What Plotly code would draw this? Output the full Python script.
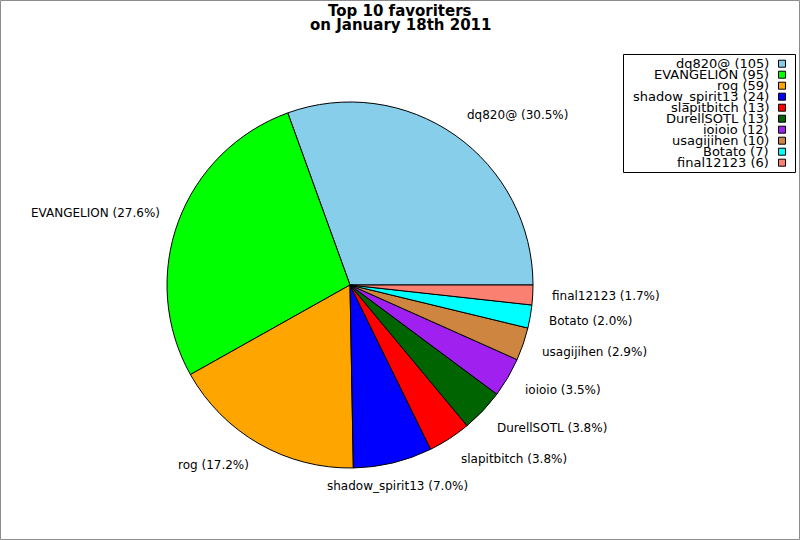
import numpy as np
import plotly.graph_objects as go

names = ["dq820@", "EVANGELION", "rog", "shadow_spirit13", "slapitbitch",
         "DurellSOTL", "ioioio", "usagijihen", "Botato", "final12123"]
counts = [105, 95, 59, 24, 13, 13, 12, 10, 7, 6]
colors = ["#87CEEB", "#00FF00", "#FFA500", "#0000FF", "#FF0000",
          "#006400", "#A020F0", "#CD853F", "#00FFFF", "#FA8072"]
title_lines = ["Top 10 favoriters", "on January 18th 2011"]

W, H = 800, 540
cx, cy, rad = 350, 285, 183  # pie centre / radius in pixels
font = "DejaVu Sans"

total = sum(counts)
# plotly's counterclockwise pie puts the first slice *before* the rotation
# angle, so shift it to make the first slice start at 3 o'clock
rot = 90 - 360 * counts[0] / total

fig = go.Figure(go.Pie(
    labels=names, values=counts, sort=False,
    direction="counterclockwise", rotation=rot,
    marker=dict(colors=colors, line=dict(color="black", width=1)),
    textinfo="none", hoverinfo="label+value+percent", showlegend=False,
    domain=dict(x=[(cx - rad) / W, (cx + rad) / W],
                y=[1 - (cy + rad) / H, 1 - (cy - rad) / H]),
))

def px2paper(x, y):
    return x / W, 1 - y / H

# outside labels at 1.1 x radius, nudged away vertically like the original
cum = np.cumsum([0] + counts)
for i, n in enumerate(names):
    pct = counts[i] / total * 100
    mid = (cum[i] + counts[i] / 2) / total * 2 * np.pi
    c, s = np.cos(mid), np.sin(mid)
    ax, ay = px2paper(cx + 1.1 * rad * c, cy - 1.1 * rad * s - 6 * s)
    if abs(c) < 0.3:
        xa = "center"
    else:
        xa = "left" if c > 0 else "right"
    fig.add_annotation(x=ax, y=ay, xref="paper", yref="paper",
                       text=f"{n} ({pct:.1f}%)", showarrow=False, borderpad=0,
                       xanchor=xa, yanchor="middle",
                       font=dict(size=12, color="black"))

# legend box: text on the left, swatch on the right
lx0, lx1, ly0, ly1 = 623.5, 795.5, 54.5, 172.5
fig.add_shape(type="rect", xref="paper", yref="paper",
              x0=lx0 / W, x1=lx1 / W, y0=1 - ly1 / H, y1=1 - ly0 / H,
              line=dict(color="black", width=1), fillcolor="white")
for i, n in enumerate(names):
    yy = 63.7 + i * 11
    tx, ty = px2paper(770, yy)
    fig.add_annotation(x=tx, y=ty, xref="paper", yref="paper",
                       text=f"{n} ({counts[i]})", showarrow=False, borderpad=0,
                       xanchor="right", yanchor="middle",
                       font=dict(size=13, color="black"))
    fig.add_shape(type="rect", xref="paper", yref="paper",
                  x0=778.5 / W, x1=785.5 / W,
                  y0=1 - (yy + 3.5) / H, y1=1 - (yy - 3.5) / H,
                  line=dict(color="black", width=1), fillcolor=colors[i])

# title, two tight lines
for k, line in enumerate(title_lines):
    tx, ty = px2paper(400, 10.5 + k * 14)
    fig.add_annotation(x=tx, y=ty, xref="paper", yref="paper",
                       text=f"<b>{line}</b>", showarrow=False, borderpad=0,
                       xanchor="center", yanchor="middle",
                       font=dict(size=15, color="black"))

# thin grey frame round the picture
fig.add_shape(type="rect", xref="paper", yref="paper",
              x0=0.5 / W, x1=1 - 0.5 / W, y0=0.5 / H, y1=1 - 0.5 / H,
              line=dict(color="#8c8c8c", width=1))

fig.update_layout(
    width=W, height=H,
    margin=dict(l=0, r=0, t=0, b=0),
    paper_bgcolor="white", plot_bgcolor="white",
    font=dict(family=font, color="black"),
)

fig.write_html("out.html", config={"displayModeBar": False},
               post_script="document.body.style.margin='0';")
